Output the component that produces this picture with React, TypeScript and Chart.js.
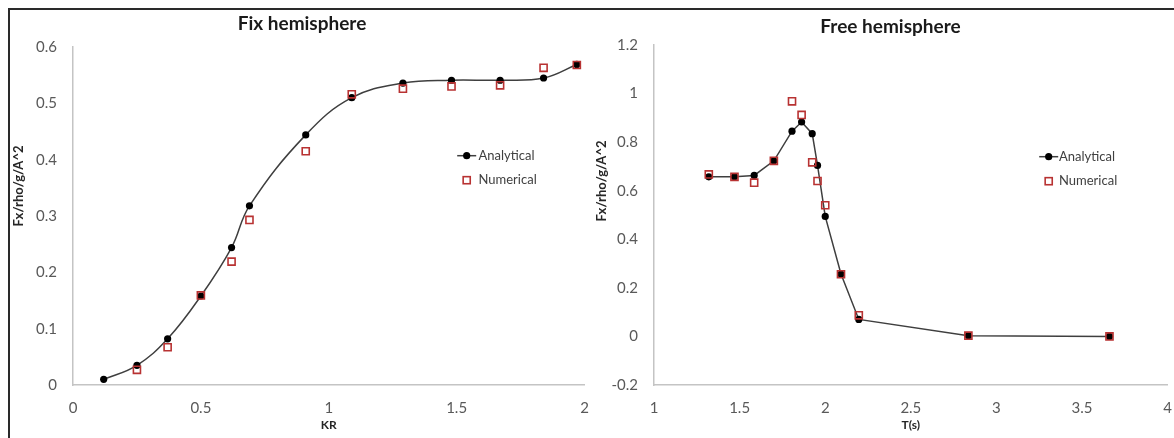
import React, { useEffect, useRef } from 'react';
import { Chart, registerables } from 'chart.js';

Chart.register(...registerables);

// ---------- data ----------
const krAnalytical = [0.12, 0.25, 0.37, 0.5, 0.62, 0.69, 0.91, 1.09, 1.29, 1.48, 1.67, 1.84, 1.97];
const fixAnalytical = [0.01, 0.035, 0.082, 0.158, 0.244, 0.318, 0.444, 0.51, 0.536, 0.541, 0.541, 0.545, 0.569];
const krNumerical = [0.25, 0.37, 0.5, 0.62, 0.69, 0.91, 1.09, 1.29, 1.48, 1.67, 1.84, 1.97];
const fixNumerical = [0.027, 0.067, 0.159, 0.219, 0.293, 0.415, 0.516, 0.526, 0.53, 0.532, 0.563, 0.568];

const periods = [1.32, 1.47, 1.585, 1.7, 1.806, 1.862, 1.924, 1.955, 2.0, 2.092, 2.196, 2.836, 3.66];
const freeAnalytical = [0.657, 0.657, 0.663, 0.723, 0.845, 0.883, 0.835, 0.704, 0.494, 0.257, 0.07, 0.003, 0.0];
const freeNumerical = [0.667, 0.657, 0.633, 0.723, 0.968, 0.912, 0.717, 0.64, 0.54, 0.256, 0.087, 0.003, 0.0];

const fixXTicks = [0, 0.5, 1, 1.5, 2];
const fixYTicks = [0, 0.1, 0.2, 0.3, 0.4, 0.5, 0.6];
const freeXTicks = [1, 1.5, 2, 2.5, 3, 3.5, 4];
const freeYTicks = [-0.2, 0, 0.2, 0.4, 0.6, 0.8, 1, 1.2];

const seriesNames = ['Analytical', 'Numerical'];
const titles = ['Fix hemisphere', 'Free hemisphere'];
const xTitles = ['KR', 'T(s)'];
const yTitle = 'Fx/rho/g/A^2';

// ---------- styles ----------
const FONT = 'Lato, "Open Sans", sans-serif';
const LINE_COLOR = '#3f3f3f';
const DOT_COLOR = '#000000';
const SQUARE_COLOR = '#b83232';
const AXIS_COLOR = '#c4c4c4';
const TICK_COLOR = '#595959';

const panelTextPlugin = {
  id: 'panelText',
  afterDraw(chart: any, _args: any, opts: any) {
    const ctx = chart.ctx as CanvasRenderingContext2D;
    ctx.save();
    ctx.textAlign = 'center';
    ctx.textBaseline = 'middle';
    ctx.fillStyle = opts.titleColor;
    ctx.font = opts.titleFont;
    ctx.fillText(opts.title, opts.titleX, opts.titleY);
    ctx.translate(opts.yTitleX, opts.yTitleY);
    ctx.rotate(-Math.PI / 2);
    ctx.fillStyle = opts.yTitleColor;
    ctx.font = opts.yTitleFont;
    ctx.fillText(opts.yTitle, 0, 0);
    ctx.restore();
  },
};

const legendPlugin = {
  id: 'boxLegend',
  afterDraw(chart: any, _args: any, opts: any) {
    const ctx = chart.ctx as CanvasRenderingContext2D;
    const ds = chart.data.datasets;
    ctx.save();
    ds.forEach((d: any, i: number) => {
      const y = opts.y + i * opts.gap;
      const cx = opts.x;
      if (d.showLine !== false) {
        ctx.strokeStyle = d.borderColor;
        ctx.lineWidth = d.borderWidth;
        ctx.beginPath();
        ctx.moveTo(cx - opts.half, y);
        ctx.lineTo(cx + opts.half, y);
        ctx.stroke();
      }
      if (d.pointStyle === 'rect') {
        const s = d.pointRadius * Math.SQRT1_2;
        ctx.strokeStyle = d.pointBorderColor;
        ctx.lineWidth = d.pointBorderWidth;
        ctx.strokeRect(cx - s, y - s, 2 * s, 2 * s);
      } else {
        ctx.fillStyle = d.pointBackgroundColor;
        ctx.beginPath();
        ctx.arc(cx, y, d.pointRadius, 0, Math.PI * 2);
        ctx.fill();
      }
      ctx.fillStyle = opts.color;
      ctx.font = opts.font;
      ctx.textAlign = 'left';
      ctx.textBaseline = 'middle';
      ctx.fillText(d.label, opts.textX, y);
    });
    ctx.restore();
  },
};

function pairs(xs: number[], ys: number[]) {
  return xs.map((x, i) => ({ x, y: ys[i] }));
}

function makeConfig(p: any) {
  return {
    type: 'line',
    data: {
      datasets: [
        {
          label: seriesNames[0],
          data: pairs(p.xa, p.ya),
          borderColor: LINE_COLOR,
          borderWidth: 1.5,
          tension: p.tension,
          pointStyle: 'circle',
          pointRadius: 3.6,
          pointBackgroundColor: DOT_COLOR,
          pointBorderColor: DOT_COLOR,
          pointBorderWidth: 0,
          order: 2,
        },
        {
          label: seriesNames[1],
          data: pairs(p.xn, p.yn),
          showLine: false,
          borderColor: SQUARE_COLOR,
          pointStyle: 'rect',
          pointRadius: 5,
          pointBackgroundColor: 'rgba(0,0,0,0)',
          pointBorderColor: SQUARE_COLOR,
          pointBorderWidth: 1.6,
          order: 1,
        },
      ],
    },
    options: {
      animation: false,
      responsive: false,
      devicePixelRatio: 1,
      events: [],
      layout: { padding: { top: p.padTop, left: 0, bottom: 0, right: p.padRight } },
      plugins: {
        legend: { display: false },
        tooltip: { enabled: false },
        title: { display: false },
        panelText: {
          title: p.title,
          titleX: p.titleX,
          titleY: p.titleY,
          titleColor: '#1a1a1a',
          titleFont: `bold 19px ${FONT}`,
          yTitle: yTitle,
          yTitleX: p.yTitleX,
          yTitleY: p.yTitleY,
          yTitleColor: '#262626',
          yTitleFont: `bold 13px ${FONT}`,
        },
        boxLegend: {
          x: p.legendX,
          y: p.legendY,
          gap: 24.5,
          half: 9.5,
          textX: p.legendTextX,
          color: '#404040',
          font: `13px ${FONT}`,
        },
      },
      scales: {
        x: {
          type: 'linear',
          min: p.xTicks[0],
          max: p.xTicks[p.xTicks.length - 1],
          afterBuildTicks: (s: any) => {
            s.ticks = p.xTicks.map((v: number) => ({ value: v }));
          },
          afterFit: (s: any) => {
            s.height = 53;
          },
          grid: { display: false, drawTicks: false },
          border: { display: true, color: AXIS_COLOR, width: 1.5 },
          ticks: {
            padding: 14,
            color: TICK_COLOR,
            font: { family: FONT, size: 15 },
            callback: (v: number) => String(v),
          },
          title: {
            display: true,
            text: p.xTitle,
            color: '#262626',
            font: { family: FONT, size: 12, weight: 'bold' },
            padding: { top: 0, bottom: 5.8 },
          },
        },
        y: {
          type: 'linear',
          min: p.yTicks[0],
          max: p.yTicks[p.yTicks.length - 1],
          afterBuildTicks: (s: any) => {
            s.ticks = p.yTicks.map((v: number) => ({ value: v }));
          },
          afterFit: (s: any) => {
            s.width = p.yWidth;
          },
          grid: { display: false, drawTicks: false },
          border: { display: true, color: AXIS_COLOR, width: 1.5 },
          ticks: {
            padding: 16,
            color: TICK_COLOR,
            font: { family: FONT, size: 15 },
            callback: (v: number) => String(v),
          },
          title: { display: false },
        },
      },
    },
    plugins: [panelTextPlugin, legendPlugin],
  };
}

export default function App() {
  const leftRef = useRef<HTMLCanvasElement>(null);
  const rightRef = useRef<HTMLCanvasElement>(null);

  useEffect(() => {
    const left = new Chart(
      leftRef.current as HTMLCanvasElement,
      makeConfig({
        xa: krAnalytical,
        ya: fixAnalytical,
        xn: krNumerical,
        yn: fixNumerical,
        tension: 0.4,
        title: titles[0],
        titleX: 292,
        titleY: 14,
        yTitleX: 8.5,
        yTitleY: 176,
        xTitle: xTitles[0],
        xTicks: fixXTicks,
        yTicks: fixYTicks,
        padTop: 37,
        padRight: 19.5,
        yWidth: 63,
        legendX: 456.7,
        legendY: 145.7,
        legendTextX: 468.5,
      }) as any
    );
    const right = new Chart(
      rightRef.current as HTMLCanvasElement,
      makeConfig({
        xa: periods,
        ya: freeAnalytical,
        xn: periods,
        yn: freeNumerical,
        tension: 0,
        title: titles[1],
        titleX: 300.5,
        titleY: 16.5,
        yTitleX: 12,
        yTitleY: 171,
        xTitle: xTitles[1],
        xTicks: freeXTicks,
        yTicks: freeYTicks,
        padTop: 35,
        padRight: 22.3,
        yWidth: 64,
        legendX: 458.7,
        legendY: 146.7,
        legendTextX: 469,
      }) as any
    );
    return () => {
      left.destroy();
      right.destroy();
    };
  }, []);

  return (
    <div
      style={{
        position: 'fixed',
        left: 8,
        top: 8,
        width: 1200,
        height: 460,
        borderTop: '2px solid #2a2a2a',
        borderLeft: '2px solid #2a2a2a',
        boxSizing: 'border-box',
        background: '#ffffff',
      }}
    >
      <canvas
        ref={leftRef}
        width={594}
        height={428}
        style={{ position: 'absolute', left: 0, top: 0, width: 594, height: 428 }}
      />
      <canvas
        ref={rightRef}
        width={600}
        height={428}
        style={{ position: 'absolute', left: 580, top: 0, width: 600, height: 428 }}
      />
    </div>
  );
}
